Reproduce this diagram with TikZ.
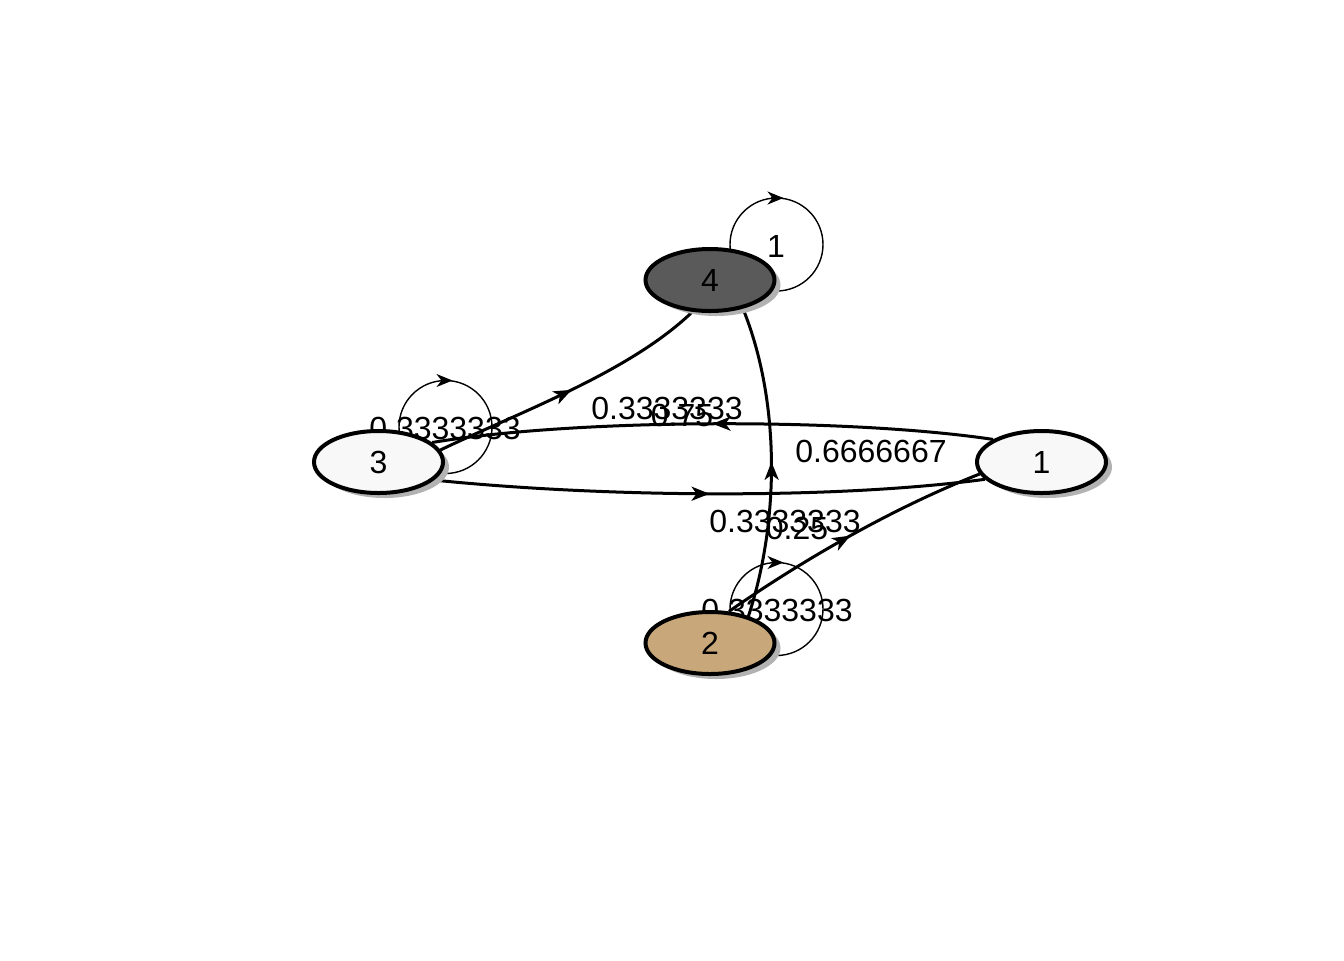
\documentclass[tikz,border=0pt]{standalone}
\usepackage{fontspec}
\setmainfont{Liberation Sans}
\usetikzlibrary{shapes.geometric,shadows,arrows.meta,decorations.markings,calc}
\pgfdeclarelayer{bg}
\pgfsetlayers{bg,main}
\definecolor{shad}{RGB}{178,178,178}
\definecolor{vlight}{RGB}{248,248,248}
\definecolor{vdark}{RGB}{90,90,90}
\definecolor{vtan}{RGB}{200,167,122}
\tikzset{
  vtx/.style={ellipse, draw=black, line width=2pt, minimum width=64.5pt, minimum height=31pt, inner sep=0pt,
    font=\fontsize{16}{19}\selectfont,
    drop shadow={shadow xshift=3pt, shadow yshift=-2.5pt, fill=shad, opacity=1}},
  wedge/.style={line width=1.5pt, postaction={decorate},
    decoration={markings, mark=at position 0.5 with {\arrow{Stealth[length=9pt,width=7pt,inset=2.5pt]}}}},
  lp/.style={line width=0.7pt},
  lptip/.style={line width=0.7pt, -{Stealth[length=8pt,width=6.5pt,inset=2.5pt]}},
  lbl/.style={inner sep=0pt, font=\fontsize{16}{19}\selectfont}
}
\begin{document}
\begin{tikzpicture}[x=0.5pt,y=-0.5pt]
\useasboundingbox (0,0) rectangle (1344,960);
% vertices
\node[vtx, fill=vlight] (n3) at (378.5,462) {3};
\node[vtx, fill=vlight] (n1) at (1041.5,462) {1};
\node[vtx, fill=vdark] (n4) at (710,280) {4};
\node[vtx, fill=vtan] (n2) at (710,643) {2};
\begin{pgfonlayer}{bg}
\fill[white] (0,0) rectangle (1344,960);
% loops
\coordinate (c3) at ($(n3)+(67,-35)$);
\coordinate (c4) at ($(n4)+(66.5,-35.5)$);
\coordinate (c2) at ($(n2)+(66.5,-34)$);
\draw[lp] (c3) circle[radius=23.25pt];
\draw[lp] (c4) circle[radius=23.25pt];
\draw[lp] (c2) circle[radius=23.25pt];
\draw[lptip] ($(c3)+(-6,-46.5)$) -- ($(c3)+(7,-46.5)$);
\draw[lptip] ($(c4)+(-6,-46.5)$) -- ($(c4)+(7,-46.5)$);
\draw[lptip] ($(c2)+(-6,-46.5)$) -- ($(c2)+(7,-46.5)$);
% edges
\draw[wedge] (n3.-18) .. controls (600,497) and (830,500) .. (n1.197);
\draw[wedge] (n1.155) .. controls (850,418) and (580,418) .. (n3.20);
\draw[wedge] (n3.11) .. controls (520,412) and (630,372) .. (n4.241);
\draw[wedge] (n2.35) .. controls (780,520) and (780,400) .. (n4.-41);
\draw[wedge] (n2.59) .. controls (810,555) and (900,505) .. (n1.191);
% labels
\node[lbl] (t1) at (445,428) {0.3333333};
\node[lbl] (t2) at (667,408) {0.3333333};
\node[lbl] (t3) at (682,415) {0.75};
\node[lbl] (t4) at (871,451) {0.6666667};
\node[lbl] (t5) at (785,521) {0.3333333};
\node[lbl] (t6) at (797,528) {0.25};
\node[lbl] (t7) at (777,610) {0.3333333};
\node[lbl] (t8) at (776,246) {1};
\end{pgfonlayer}
\end{tikzpicture}
\end{document}
